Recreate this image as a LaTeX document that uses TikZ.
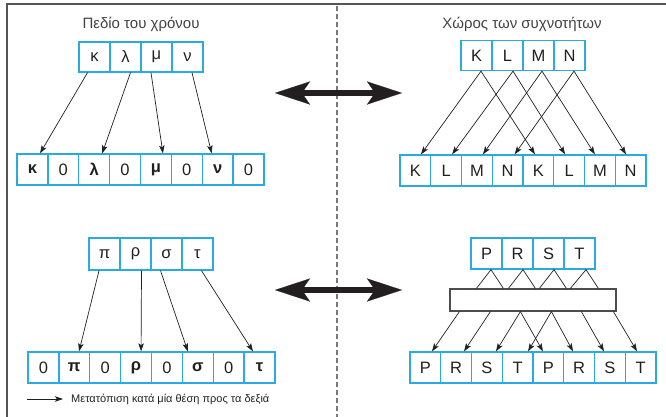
\documentclass[tikz,border=0pt]{standalone}
\usepackage{fontspec}
\setmainfont{Liberation Sans}
\usetikzlibrary{arrows.meta,calc}
\definecolor{cellblue}{HTML}{2AAAE2}
\definecolor{framegray}{HTML}{555555}
\definecolor{dashgray}{HTML}{777777}
\definecolor{ink}{HTML}{231F20}
\begin{document}
\begin{tikzpicture}[x=1pt,y=-1pt,
  cell/.style={draw=cellblue, line width=1.3pt, minimum width=31pt, minimum height=30pt, inner sep=0pt, font=\fontsize{16.5}{17}\selectfont, text=ink},
  arr/.style={-{Stealth[length=8pt,width=5.5pt,inset=1.8pt]}, line width=0.7pt, draw=ink},
  tri/.style={line width=0.7pt, draw=ink},
  ttl/.style={font=\fontsize{15}{16}\selectfont, text=ink!85},
  dbl/.style={{Stealth[length=35pt,width=23pt,inset=8pt,line width=0.1pt]}-{Stealth[length=35pt,width=23pt,inset=8pt,line width=0.1pt]}, line width=6.5pt, draw=ink},
  framel/.style={draw=framegray, line width=2pt},
  divider/.style={draw=dashgray, line width=1.3pt, dash pattern=on 5pt off 3pt}]
\useasboundingbox (0,0) rectangle (666,417);

% frame and divider
\draw[framel] (6.5,417) -- (6.5,4.5) -- (666,4.5);
\draw[divider] (337,6) -- (337,417);

% titles
\node[ttl] (ttl1) at (141,24) {Πεδίο του χρόνου};
\node[ttl] (ttl2) at (522,24) {Χώρος των συχνοτήτων};

% ---------- top left ----------
\foreach \t [count=\i] in {κ,λ,μ,ν}
  \node[cell] (tl\i) at ({79+(\i-0.5)*31},57) {\t};
\foreach \t [count=\i] in {\textbf{κ},0,\textbf{λ},0,\textbf{μ},0,\textbf{ν},0}
  \node[cell, minimum width=30.875pt, minimum height=31pt] (bl\i) at ({17+(\i-0.5)*30.875},169.5) {\t};
\draw[arr] ([xshift=-7pt]tl1.south) -- ([xshift=7.6pt]bl1.north);
\draw[arr] ([xshift=5pt]tl2.south) -- ([xshift=8pt]bl3.north);
\draw[arr] ([xshift=-5.5pt]tl3.south) -- ([xshift=7pt]bl5.north);
\draw[arr] ([xshift=4.5pt]tl4.south) -- ([xshift=-6pt]bl7.north);

% ---------- top right ----------
\foreach \t [count=\i] in {K,L,M,N}
  \node[cell] (tr\i) at ({461+(\i-0.5)*31},55.5) {\t};
\foreach \t [count=\i] in {K,L,M,N,K,L,M,N}
  \node[cell, minimum width=30.75pt, minimum height=31pt] (br\i) at ({400+(\i-0.5)*30.75},170.5) {\t};
\draw[arr] ([xshift=4.5pt]tr1.south) -- ([xshift=5.6pt]br1.north);
\draw[arr] ([xshift=4.5pt]tr1.south) -- ([xshift=-3.4pt]br5.north);
\draw[arr] ([xshift=5.5pt]tr2.south) -- ([xshift=6pt]br2.north);
\draw[arr] ([xshift=5.5pt]tr2.south) -- ([xshift=-4pt]br6.north);
\draw[arr] ([xshift=3.5pt]tr3.south) -- ([xshift=6pt]br3.north);
\draw[arr] ([xshift=3.5pt]tr3.south) -- ([xshift=-5pt]br7.north);
\draw[arr] ([xshift=4.5pt]tr4.south) -- ([xshift=7pt]br4.north);
\draw[arr] ([xshift=4.5pt]tr4.south) -- ([xshift=-4.6pt]br8.north);

% ---------- bottom left ----------
\foreach \t [count=\i] in {π,ρ,σ,τ}
  \node[cell, minimum height=32pt] (pl\i) at ({89+(\i-0.5)*31},254) {\t};
\foreach \t [count=\i] in {0,\textbf{π},0,\textbf{ρ},0,\textbf{σ},0,\textbf{τ}}
  \node[cell, minimum width=30.875pt, minimum height=31pt] (ql\i) at ({28+(\i-0.5)*30.875},367.5) {\t};
\draw[arr] ([xshift=-5.5pt]pl1.south) -- ([xshift=4.7pt]ql2.north);
\draw[arr] ([xshift=6pt]pl2.south) -- ([xshift=5pt]ql4.north);
\draw[arr] ([xshift=-6pt]pl3.south) -- ([xshift=-10pt]ql6.north);
\draw[arr] ([xshift=4pt]pl4.south) -- ([xshift=-6.6pt]ql8.north);

% legend
\coordinate (lg1) at (27,399);
\coordinate (lg2) at (63,399);
\draw[arr] (lg1) -- (lg2);
\node[anchor=west, inner sep=0pt, font=\fontsize{11}{12}\selectfont, text=ink] (lgt) at (71,399) {Μετατόπιση κατά μία θέση προς τα δεξιά};

% ---------- bottom right ----------
\foreach \t [count=\i] in {P,R,S,T}
  \node[cell, minimum height=31pt] (pr\i) at ({471+(\i-0.5)*31},253.5) {\t};
\node[draw=ink!80, fill=white, line width=1.2pt, minimum width=166pt, minimum height=22pt, inner sep=0pt] (fft) at (533,300) {};
\foreach \t [count=\i] in {P,R,S,T,P,R,S,T}
  \node[cell, minimum width=30.75pt, minimum height=31pt] (qr\i) at ({410+(\i-0.5)*30.75},367.5) {\t};

\draw[tri] ($(fft.north west)+(27,0)$) -- ([xshift=4.5pt]pr1.south) -- ($(fft.north west)+(54,0)$);
\draw[tri] ($(fft.north west)+(59,0)$) -- ([xshift=5.5pt]pr2.south) -- ($(fft.north west)+(86,0)$);
\draw[tri] ($(fft.north west)+(90,0)$) -- ([xshift=5.5pt]pr3.south) -- ($(fft.north west)+(117,0)$);
\draw[tri] ($(fft.north west)+(121,0)$) -- ([xshift=6.5pt]pr4.south) -- ($(fft.north west)+(149,0)$);

\draw[arr] ($(fft.south west)+(10,0)$) -- ([xshift=6.6pt]qr1.north);
\draw[arr] ($(fft.south west)+(41,0)$) -- ([xshift=7.9pt]qr2.north);
\draw[arr] ($(fft.south west)+(71,0)$) -- ([xshift=9.1pt]qr3.north);
\draw[arr] ($(fft.south west)+(102,0)$) -- ([xshift=10.4pt]qr4.north);
\draw[arr] ($(fft.south west)+(71,0)$) -- ([xshift=-5.4pt]qr5.north);
\draw[arr] ($(fft.south west)+(102,0)$) -- ([xshift=-6.1pt]qr6.north);
\draw[arr] ($(fft.south west)+(132,0)$) -- ([xshift=-5.9pt]qr7.north);
\draw[arr] ($(fft.south west)+(164,0)$) -- ([xshift=-3.6pt]qr8.north);

% ---------- double arrows ----------
\coordinate (da1) at (275,93);
\coordinate (da2) at (402,93);
\draw[dbl] (da1) -- (da2);
\coordinate (db1) at (275,290);
\coordinate (db2) at (402,290);
\draw[dbl] (db1) -- (db2);
\end{tikzpicture}
\end{document}
